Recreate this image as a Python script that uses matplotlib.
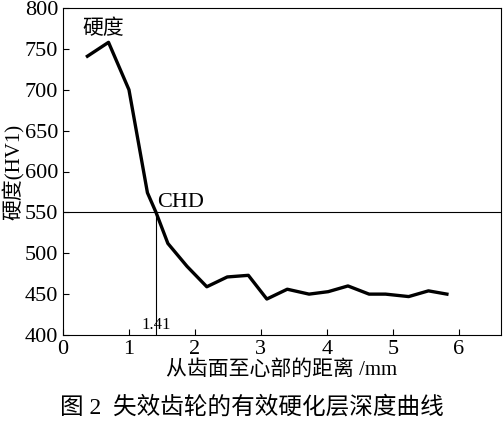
import matplotlib.pyplot as plt

plt.rcParams['font.family'] = ['Liberation Serif', 'Noto Sans CJK SC']

# hardness profile
depth = [0.37, 0.69, 1.0, 1.28, 1.41, 1.59, 1.88, 2.18, 2.49, 2.81, 3.09, 3.40,
         3.73, 4.02, 4.32, 4.64, 4.89, 5.24, 5.54, 5.82]
hardness = [741, 758, 700, 574, 550, 512, 484, 459, 471, 473, 444, 456,
            450, 453, 460, 450, 450, 447, 454, 450]
chd_x = 1.41
chd_y = 550

fig = plt.figure(figsize=(5.03, 4.26), dpi=100)
ax = fig.add_axes([63 / 503, 1 - 335 / 426, 438 / 503, 327 / 426])

ax.plot(depth, hardness, color='black', lw=2.4)
ax.axhline(chd_y, color='black', lw=0.8)
ax.plot([chd_x, chd_x], [400, chd_y], color='black', lw=0.8)
ax.text(chd_x + 0.02, 556, 'CHD', fontsize=16)
ax.text(chd_x, 403, '1.41', fontsize=12, ha='center', va='bottom')
ax.text(0.3, 762, '硬度', fontsize=15, va='bottom')

ax.set_xlim(0, 6.64)
ax.set_ylim(400, 800)
ax.set_xticks(range(0, 7))
ax.set_yticks(range(400, 801, 50))
ax.tick_params(direction='in', labelsize=16, length=4)
ax.set_xlabel('从齿面至心部的距离 /mm', fontsize=15, labelpad=1)
ax.set_ylabel('硬度(HV1)', fontsize=15, labelpad=0)

fig.text(0.5, 0.03, '图 2  失效齿轮的有效硬化层深度曲线', ha='center', fontsize=17)

fig.savefig('out.png', dpi=100)
